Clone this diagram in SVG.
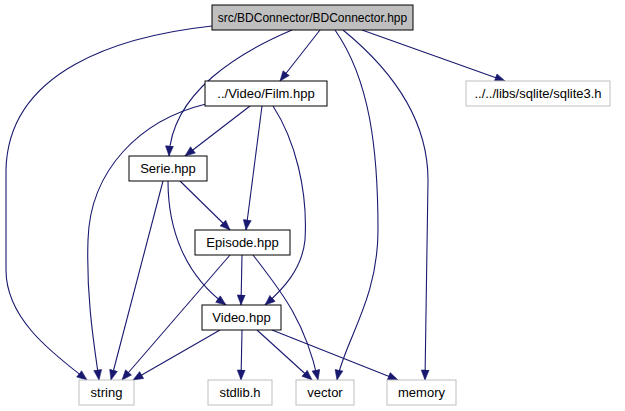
<svg xmlns="http://www.w3.org/2000/svg" width="625" height="411" viewBox="0 0 625 411">
<style>
.n rect{fill:#ffffff;stroke:#000000;stroke-width:1}
.g rect{fill:#ffffff;stroke:#bfbfbf;stroke-width:1}
#n0 rect{fill:#bfbfbf}
text{font-family:"Liberation Sans",Arial,sans-serif;font-size:13px;fill:#000000;text-anchor:middle}
#n0 text{font-size:12px}
#edges path{fill:none;stroke:#191970;stroke-width:1.1;marker-end:url(#ah)}
</style>
<defs>
<marker id="ah" markerUnits="userSpaceOnUse" markerWidth="11" markerHeight="9" refX="10.5" refY="4.5" orient="auto">
<path d="M0.5,0.5 L10.5,4.5 L0.5,8.5 z" fill="#191970" stroke="#191970" stroke-width="0.5"/>
</marker>
</defs>
<rect width="625" height="411" fill="#ffffff"/>
<g id="edges">
<path d="M212,26 C120,36 8,70 6,170 L6,270 C6,320 55,355 87,380"/>
<path d="M320,30 L280,81"/>
<path d="M292,30 C240,52 172,92 169,156"/>
<path d="M335,30 C370,80 378,150 378,230 C378,300 345,340 337,380"/>
<path d="M343,30 C392,70 428,120 428,180 L425,380"/>
<path d="M362,30 L505,81"/>
<path d="M250,106 L185,156"/>
<path d="M206,104 C140,120 90,170 88,240 C86,300 95,350 99,380"/>
<path d="M262,106 L246,230"/>
<path d="M273,106 C295,140 308,190 305,240 C302,270 282,290 265,305"/>
<path d="M180,181 L230,230"/>
<path d="M163,181 L111,380"/>
<path d="M168,181 C168,230 185,275 226,305"/>
<path d="M242,255 L241,305"/>
<path d="M230,255 L122,380"/>
<path d="M253,255 C280,290 305,320 318,380"/>
<path d="M220,330 L133,380"/>
<path d="M242,330 L241,380"/>
<path d="M257,330 L312,380"/>
<path d="M272,330 L398,380"/>
</g>
<g id="n0" class="n"><rect x="212" y="5" width="201" height="25"/><text x="312.5" y="21.5">src/BDConnector/BDConnector.hpp</text></g>
<g id="n1" class="n"><rect x="205" y="81" width="122" height="25"/><text x="266" y="98">../Video/Film.hpp</text></g>
<g id="n2" class="g"><rect x="466" y="81" width="144" height="25"/><text x="538" y="98">../../libs/sqlite/sqlite3.h</text></g>
<g id="n3" class="n"><rect x="129" y="156" width="78" height="25"/><text x="168" y="173">Serie.hpp</text></g>
<g id="n4" class="n"><rect x="195" y="230" width="95" height="25"/><text x="242.5" y="247">Episode.hpp</text></g>
<g id="n5" class="n"><rect x="202" y="305" width="79" height="25"/><text x="241.5" y="322">Video.hpp</text></g>
<g id="n6" class="g"><rect x="79" y="380" width="55" height="25"/><text x="106.5" y="397">string</text></g>
<g id="n7" class="g"><rect x="208" y="380" width="64" height="25"/><text x="240" y="397">stdlib.h</text></g>
<g id="n8" class="g"><rect x="296" y="380" width="58" height="25"/><text x="325" y="397">vector</text></g>
<g id="n9" class="g"><rect x="387" y="380" width="69" height="25"/><text x="421.5" y="397">memory</text></g>
</svg>
